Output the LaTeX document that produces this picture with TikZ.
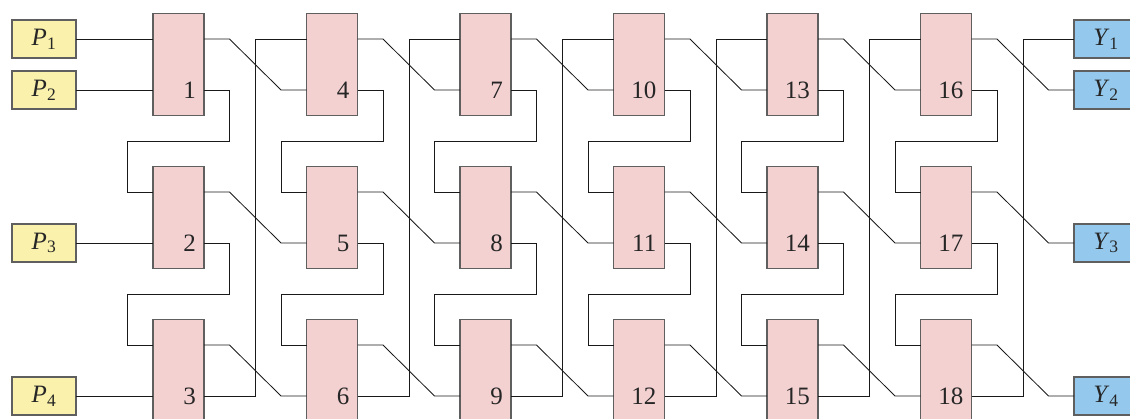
\documentclass[tikz,border=0pt]{standalone}
\usepackage{fontspec}
\setmainfont{Liberation Serif}
\usetikzlibrary{calc}
\definecolor{blkfill}{RGB}{244,209,209}
\definecolor{infill}{RGB}{249,241,172}
\definecolor{outfill}{RGB}{148,201,237}
\definecolor{edge}{RGB}{95,95,95}
\definecolor{wire}{RGB}{25,25,25}
\tikzset{
  blk/.style={draw=edge, line width=1.1pt, fill=blkfill, minimum width=51pt, minimum height=102pt, inner sep=0pt, outer sep=0pt},
  iobox/.style={draw=edge, line width=1.1pt, minimum width=64pt, minimum height=38pt, inner sep=0pt, outer sep=0pt, font=\fontsize{25}{28}\selectfont, text=black!85},
  inbox/.style={iobox, fill=infill},
  outbox/.style={iobox, fill=outfill},
  num/.style={inner sep=0pt, anchor=east, font=\fontsize{25}{28}\selectfont, text=black!85},
  wr/.style={draw=wire, line width=0.85pt}
}
\begin{document}
\begin{tikzpicture}[x=1pt,y=-1pt]
\useasboundingbox (0,0) rectangle (1130,418);
% blocks
\foreach \c in {0,...,5} {
  \foreach \j in {0,1,2} {
    \pgfmathtruncatemacro\n{3*\c+\j+1}
    \pgfmathsetmacro\x{153+153.5*\c}
    \pgfmathsetmacro\y{13.5+153*\j}
    \node[blk, anchor=north west] (b\n) at (\x,\y) {};
    \coordinate (b\n-i1) at ($(b\n.north west)+(0,25.5)$);
    \coordinate (b\n-i2) at ($(b\n.north west)+(0,76.5)$);
    \coordinate (b\n-o1) at ($(b\n.north east)+(0,25.5)$);
    \coordinate (b\n-o2) at ($(b\n.north east)+(0,76.5)$);
    \node[num] (l\n) at ($(b\n-o2)+(-8,0)$) {\n};
  }
}
% inputs and outputs
\node[inbox, anchor=west] (P1) at (12,39) {\textit{P}\textsubscript{1}};
\node[inbox, anchor=west] (P2) at (12,90) {\textit{P}\textsubscript{2}};
\node[inbox, anchor=west] (P3) at (12,243) {\textit{P}\textsubscript{3}};
\node[inbox, anchor=west] (P4) at (12,396) {\textit{P}\textsubscript{4}};
\node[outbox, anchor=west] (Y1) at (1074,39) {\textit{Y}\textsubscript{1}};
\node[outbox, anchor=west] (Y2) at (1074,90) {\textit{Y}\textsubscript{2}};
\node[outbox, anchor=west] (Y3) at (1074,243) {\textit{Y}\textsubscript{3}};
\node[outbox, anchor=west] (Y4) at (1074,396) {\textit{Y}\textsubscript{4}};
% input wires
\draw[wr] (P1.east) -- (b1-i1);
\draw[wr] (P2.east) -- (b1-i2);
\draw[wr] (P3.east) -- (b2-i2);
\draw[wr] (P4.east) -- (b3-i2);
% folds inside each column
\foreach \c in {0,...,5} {
  \pgfmathtruncatemacro\a{3*\c+1}
  \pgfmathtruncatemacro\b{3*\c+2}
  \pgfmathtruncatemacro\d{3*\c+3}
  \draw[wr] (b\a-o2) -- ++(25.5,0) -- ++(0,51) -- ($(b\b-i1)+(-25.5,-51)$) -- ($(b\b-i1)+(-25.5,0)$) -- (b\b-i1);
  \draw[wr] (b\b-o2) -- ++(25.5,0) -- ++(0,51) -- ($(b\d-i1)+(-25.5,-51)$) -- ($(b\d-i1)+(-25.5,0)$) -- (b\d-i1);
}
% links between columns
\foreach \c in {0,...,4} {
  \pgfmathtruncatemacro\a{3*\c+1}
  \pgfmathtruncatemacro\b{3*\c+2}
  \pgfmathtruncatemacro\d{3*\c+3}
  \pgfmathtruncatemacro\A{3*\c+4}
  \pgfmathtruncatemacro\B{3*\c+5}
  \pgfmathtruncatemacro\D{3*\c+6}
  \draw[wr] (b\a-o1) -- ++(25.5,0) -- ($(b\A-i2)+(-25.5,0)$) -- (b\A-i2);
  \draw[wr] (b\b-o1) -- ++(25.5,0) -- ($(b\B-i2)+(-25.5,0)$) -- (b\B-i2);
  \draw[wr] (b\d-o1) -- ++(25.5,0) -- ($(b\D-i2)+(-25.5,0)$) -- (b\D-i2);
  \draw[wr] (b\d-o2) -- ++(51.5,0) |- (b\A-i1);
}
% output wires
\draw[wr] (b16-o1) -- ++(25.5,0) -- ($(Y2.west)+(-25.5,0)$) -- (Y2.west);
\draw[wr] (b17-o1) -- ++(25.5,0) -- ($(Y3.west)+(-25.5,0)$) -- (Y3.west);
\draw[wr] (b18-o1) -- ++(25.5,0) -- ($(Y4.west)+(-25.5,0)$) -- (Y4.west);
\draw[wr] (b18-o2) -- ++(51.5,0) |- (Y1.west);
\end{tikzpicture}
\end{document}
